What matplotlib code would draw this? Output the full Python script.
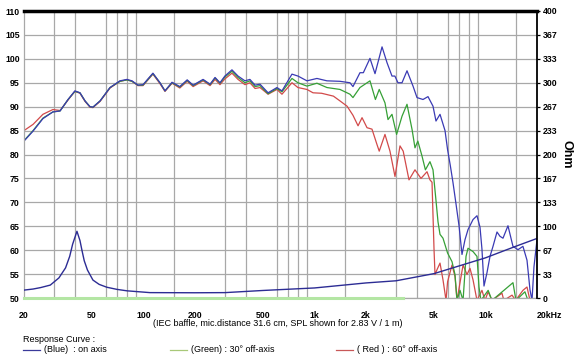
import matplotlib
matplotlib.use('Agg')
import matplotlib.pyplot as plt
from matplotlib.lines import Line2D
from matplotlib.ticker import FixedLocator, NullFormatter

plt.rcParams['font.family'] = ['Liberation Sans', 'DejaVu Sans']

# ---- data ----
# SPL, on axis (blue)
blue_freq = [20, 22.6, 25.8, 29.5, 32.5, 36.2, 39.7, 42.5, 45.5, 48.6, 50.6, 55.7,
             63.7, 72.8, 80, 85.6, 92.8, 99.3, 113.5, 124.8, 133.5, 146.8, 163, 180,
             195, 223, 245, 262, 280, 299, 329, 357, 392, 419, 449, 480, 535, 603,
             645, 738, 800, 903, 1033, 1182, 1409, 1612, 1678, 1844, 1930, 2110,
             2258, 2482, 2654, 2838, 2950, 3076, 3248, 3474, 3767, 3974, 4309, 4609,
             4930, 5132, 5418, 5796, 6000, 6230, 6454, 6700, 7000, 7285, 7586, 7900,
             8451, 8914, 9283, 9532, 9796, 10200, 10620, 11060, 11670, 12150, 12650,
             13530, 14470, 15480, 16550, 17480, 18200, 18700, 19200, 20000]
blue_db = [82.8, 84.9, 87.5, 88.9, 89.1, 91.5, 93.3, 92.9, 91.2, 90.0, 89.9, 91.2,
           94.0, 95.4, 95.7, 95.4, 94.5, 94.6, 97.0, 95.0, 93.3, 95.1, 94.2, 95.6,
           94.5, 95.7, 94.7, 96.1, 95.0, 96.4, 97.7, 96.4, 95.4, 95.7, 94.5, 94.7, 92.9, 94.0,
           93.3, 96.8, 96.4, 95.4, 95.9, 95.4, 95.3, 95.0, 94.2, 97.1, 97.1, 100.1,
           96.9, 102.5, 99.2, 96.4, 96.4, 95.0, 95.0, 97.5, 94.3, 91.9, 91.5, 92.1,
           90.1, 87.0, 88.4, 85.0, 81.0, 77.6, 74.1, 70.0, 65.1, 59.1, 62.2, 64.3,
           66.4, 67.2, 64.8, 60.2, 52.5, 55.3, 58.7, 60.8, 63.8, 62.9, 62.5,
           65.1, 60.8, 60.1, 60.8, 57.9, 51.7, 49.5, 56.5, 62.2]

# SPL, 30 deg off axis (green)
green_freq = [20, 22.6, 25.8, 29.5, 32.5, 36.2, 39.7, 42.5, 45.5, 48.6, 50.6, 55.7,
              63.7, 72.8, 80, 85.6, 92.8, 99.3, 113.5, 124.8, 133.5, 146.8, 163, 180,
              195, 223, 245, 262, 280, 299, 329, 357, 392, 419, 449, 480, 535, 603,
              645, 738, 800, 903, 1033, 1182, 1409, 1612, 1678, 1844, 2110, 2270,
              2390, 2582, 2690, 2838, 3020, 3248, 3474, 3720, 3868, 4020, 4250, 4450,
              4732, 4930, 5132, 5275, 5418, 5640, 6000, 6368, 6630, 6812, 7092, 7390,
              7690, 7900, 8451, 8914, 9160, 9400, 10360, 10910, 14470, 15070, 17000,
              17700, 20000]
green_db = [82.9, 85.0, 87.6, 88.9, 89.1, 91.5, 93.2, 92.9, 91.2, 90.0, 89.9, 91.2,
            94.0, 95.3, 95.6, 95.3, 94.5, 94.5, 96.9, 95.0, 93.3, 95.0, 94.1, 95.5,
            94.4, 95.6, 94.6, 96.0, 94.9, 96.2, 97.4, 96.1, 95.0, 95.4, 94.2, 94.4, 92.7, 93.8,
            93.1, 95.9, 95.0, 94.3, 94.9, 94.0, 93.6, 92.6, 91.9, 94.0, 95.4, 91.5,
            93.6, 90.8, 87.3, 88.4, 84.2, 88.0, 90.5, 85.2, 81.4, 82.8, 79.7, 76.8,
            78.5, 76.8, 70.4, 65.9, 63.3, 62.5, 59.4, 57.6, 54.9, 49.5, 51.6, 49.5,
            58.7, 60.4, 59.7, 58.7, 52.3, 49.5, 51.6, 49.5, 53.2, 49.5, 51.3,
            49.5, 49.5]

# SPL, 60 deg off axis (red)
red_freq = [20, 22.6, 25.8, 29.5, 32.5, 36.2, 39.7, 42.5, 45.5, 48.6, 50.6, 55.7,
            63.7, 72.8, 80, 85.6, 92.8, 99.3, 113.5, 124.8, 133.5, 146.8, 163, 180,
            195, 223, 245, 262, 280, 299, 329, 357, 392, 419, 449, 480, 535, 603,
            645, 738, 800, 903, 980, 1100, 1290, 1409, 1550, 1678, 1797, 1896, 2028,
            2168, 2318, 2390, 2582, 2762, 2955, 3161, 3300, 3568, 3868, 4194, 4548,
            4732, 4865, 4998, 5065, 5200, 5418, 5640, 5876, 6000, 6368, 6630, 6812,
            7092, 7390, 7792, 8112, 8451, 8914, 9532, 9930, 10360, 10910, 12480,
            12800, 14290, 15000, 16550, 17480, 18200, 20000]
red_db = [85.0, 86.3, 88.4, 89.4, 89.2, 91.4, 93.2, 92.8, 91.1, 89.9, 89.8, 91.1,
          93.9, 95.3, 95.6, 95.3, 94.4, 94.4, 96.8, 94.8, 93.2, 94.9, 93.9, 95.3,
          94.2, 95.4, 94.4, 95.7, 94.6, 95.8, 97.0, 95.7, 94.6, 95.0, 93.8, 94.0, 92.6, 93.6,
          92.6, 95.0, 94.0, 93.6, 92.9, 92.8, 92.2, 91.2, 90.1, 88.2, 86.0, 87.7, 85.6,
          85.3, 82.1, 80.7, 84.2, 80.7, 75.4, 81.8, 80.7, 74.7, 76.8, 75.0, 76.4,
          74.7, 74.2, 60.2, 54.9, 55.9, 57.3, 53.8, 49.5, 53.4, 56.9, 54.5, 49.5,
          53.2, 56.9, 54.9, 56.2, 53.8, 49.5, 51.6, 49.5, 51.3, 49.5, 51.0,
          49.5, 50.6, 49.5, 51.6, 52.3, 49.5, 49.5]

# impedance (Ohm, right axis)
imp_freq = [20, 22.6, 25, 28.5, 32, 35, 37, 38.5, 40.8, 42.5, 43.6, 45, 47, 50.6,
            55, 61, 70, 80, 109, 200, 300, 500, 1000, 2000, 3000, 5000, 10000,
            15000, 20000]
imp_ohm = [11, 12.5, 14.5, 18, 28, 42, 58, 75, 93, 80, 67, 52, 39, 25,
           19, 15, 12, 10, 7.5, 7.3, 7.5, 10.5, 14, 21, 24, 34, 56,
           72, 83]

# light green trace lying on the bottom axis
floor_freq = [20, 3300]
floor_ohm = [0, 0]

grid_freqs = ([20, 30, 40, 50, 60, 70, 80, 90, 100, 150] +
              [200, 300, 400, 500, 600, 700, 800, 900, 1000, 1500] +
              [2000, 3000, 4000, 5000, 6000, 7000, 8000, 9000, 10000, 15000, 20000])
xtick_freqs = [20, 50, 100, 200, 500, 1000, 2000, 5000, 10000, 20000]
xtick_labels = ['20', '50', '100', '200', '500', '1k', '2k', '5k', '10k', '20kHz']
db_ticks = list(range(50, 111, 5))
ohm_ticks = [0, 400 / 12, 800 / 12, 100, 1600 / 12, 2000 / 12, 200,
             2800 / 12, 3200 / 12, 300, 4000 / 12, 4400 / 12, 400]
ohm_labels = ['0', '33', '67', '100', '133', '167', '200', '233', '267',
              '300', '333', '367', '400']

# ---- figure ----
W, H = 575, 357
fig = plt.figure(figsize=(W / 100, H / 100), dpi=100)
ax = fig.add_axes([24 / W, 1 - 298 / H, (537 - 24) / W, (298 - 11) / H])
ax.set_xscale('log')
ax.set_xlim(20, 20000)
ax.set_ylim(50, 110)

ax.xaxis.set_major_locator(FixedLocator(xtick_freqs))
ax.xaxis.set_minor_locator(FixedLocator(grid_freqs))
ax.xaxis.set_minor_formatter(NullFormatter())
ax.set_xticklabels(xtick_labels)
ax.set_yticks(db_ticks)
ax.grid(True, which='minor', axis='x', color='#a8a8a8', lw=0.9)
ax.grid(True, which='major', axis='y', color='#a8a8a8', lw=0.9)
ax.set_axisbelow(True)
ax.tick_params(axis='both', which='both', length=0, labelsize=6.3, pad=3)
ax.tick_params(axis='x', pad=9)
for lab in ax.get_xticklabels() + ax.get_yticklabels():
    lab.set_fontweight('bold')
ax.get_xticklabels()[-1].set_horizontalalignment('left')
ax.get_xticklabels()[-1].set_x(16500)

for side in ['left', 'bottom']:
    ax.spines[side].set_color('#a8a8a8')
    ax.spines[side].set_linewidth(0.9)
ax.spines['top'].set_color('black')
ax.spines['top'].set_linewidth(2.5)
ax.spines['right'].set_visible(False)

ax.plot(red_freq, red_db, color='#d24a4a', lw=0.9)
ax.plot(green_freq, green_db, color='#36a036', lw=0.9)
ax.plot(blue_freq, blue_db, color='#3a3ab4', lw=0.9)

ax2 = ax.twinx()
ax2.set_ylim(0, 400)
ax2.set_yticks(ohm_ticks)
ax2.set_yticklabels(ohm_labels)
ax2.tick_params(axis='y', length=2.5, width=0.9, labelsize=6.3, pad=1.5, color='black')
for lab in ax2.get_yticklabels():
    lab.set_fontweight('bold')
for side in ['left', 'bottom', 'top']:
    ax2.spines[side].set_visible(False)
ax2.spines['right'].set_color('black')
ax2.spines['right'].set_linewidth(1.3)
ax2.set_ylabel('Ohm', rotation=270, fontsize=9, fontweight='bold', labelpad=11)

ax2.plot(floor_freq, floor_ohm, color='#b4e6a4', lw=2.2, clip_on=False, zorder=1)
ax2.plot(imp_freq, imp_ohm, color='#2c2c94', lw=1.0)

# ---- captions / legend ----
fig.text(278 / W, 1 - 324 / H, '(IEC baffle, mic.distance 31.6 cm, SPL shown for 2.83 V / 1 m)',
         ha='center', va='center', fontsize=6.5)
fig.text(23 / W, 1 - 339 / H, 'Response Curve :', ha='left', va='center', fontsize=6.5)
legend_items = [(23, '#3a3a9a', '(Blue)  : on axis'),
                (170, '#a8c878', '(Green) : 30\u00b0 off-axis'),
                (336, '#c85858', '( Red ) : 60\u00b0 off-axis')]
for x0, col, txt in legend_items:
    fig.add_artist(Line2D([x0 / W, (x0 + 17) / W], [1 - 350 / H, 1 - 350 / H],
                          transform=fig.transFigure, color=col, lw=0.9))
    fig.text((x0 + 21) / W, 1 - 350 / H, txt, ha='left', va='center', fontsize=6.5)

fig.savefig('out.png', dpi=100)
